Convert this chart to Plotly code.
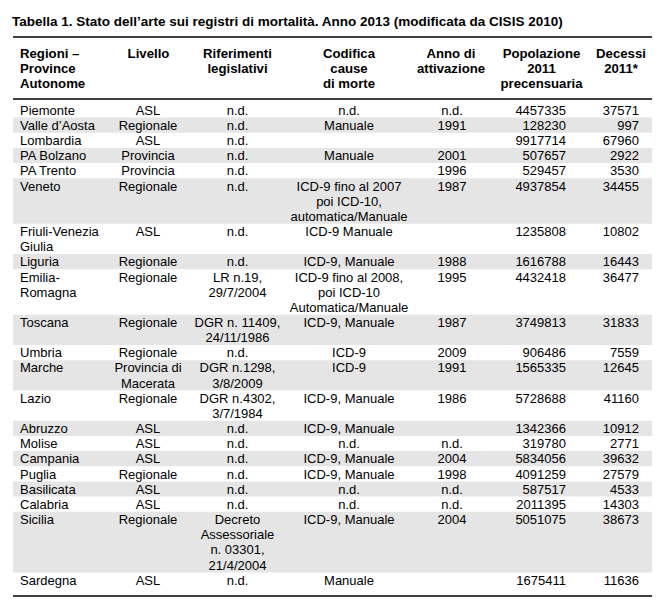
import plotly.graph_objects as go

# ---------------- data ----------------
title_text = "Tabella 1. Stato dell’arte sui registri di mortalità. Anno 2013 (modificata da CISIS 2010)"

headers = [
    "Regioni –<br>Province<br>Autonome",
    "Livello",
    "Riferimenti<br>legislativi",
    "Codifica<br>cause<br>di morte",
    "Anno di<br>attivazione",
    "Popolazione<br>2011<br>precensuaria",
    "Decessi<br>2011*",
]

regioni = [
    "Piemonte", "Valle d’Aosta", "Lombardia", "PA Bolzano", "PA Trento", "Veneto",
    "Friuli-Venezia<br>Giulia", "Liguria", "Emilia-<br>Romagna", "Toscana", "Umbria",
    "Marche", "Lazio", "Abruzzo", "Molise", "Campania", "Puglia", "Basilicata",
    "Calabria", "Sicilia", "Sardegna",
]

livello = [
    "ASL", "Regionale", "ASL", "Provincia", "Provincia", "Regionale", "ASL",
    "Regionale", "Regionale", "Regionale", "Regionale", "Provincia di<br>Macerata",
    "Regionale", "ASL", "ASL", "ASL", "Regionale", "ASL", "ASL", "Regionale", "ASL",
]

riferimenti = [
    "n.d.", "n.d.", "n.d.", "n.d.", "n.d.", "n.d.", "n.d.", "n.d.",
    "LR n.19,<br>29/7/2004", "DGR n. 11409,<br>24/11/1986", "n.d.",
    "DGR n.1298,<br>3/8/2009", "DGR n.4302,<br>3/7/1984", "n.d.", "n.d.", "n.d.",
    "n.d.", "n.d.", "n.d.", "Decreto<br>Assessoriale<br>n. 03301,<br>21/4/2004", "n.d.",
]

codifica = [
    "n.d.", "Manuale", "", "Manuale", "",
    "ICD-9 fino al 2007<br>poi ICD-10,<br>automatica/Manuale",
    "ICD-9 Manuale", "ICD-9, Manuale",
    "ICD-9 fino al 2008,<br>poi ICD-10<br>Automatica/Manuale",
    "ICD-9, Manuale", "ICD-9", "ICD-9", "ICD-9, Manuale", "ICD-9, Manuale", "n.d.",
    "ICD-9, Manuale", "ICD-9, Manuale", "n.d.", "n.d.", "ICD-9, Manuale", "Manuale",
]

anno = [
    "n.d.", "1991", "", "2001", "1996", "1987", "", "1988", "1995", "1987", "2009",
    "1991", "1986", "", "n.d.", "2004", "1998", "n.d.", "n.d.", "2004", "",
]

popolazione = [
    4457335, 128230, 9917714, 507657, 529457, 4937854, 1235808, 1616788, 4432418,
    3749813, 906486, 1565335, 5728688, 1342366, 319780, 5834056, 4091259, 587517,
    2011395, 5051075, 1675411,
]

decessi = [
    37571, 997, 67960, 2922, 3530, 34455, 10802, 16443, 36477, 31833, 7559, 12645,
    41160, 10912, 2771, 39632, 27579, 4533, 14303, 38673, 11636,
]

# ---------------- layout constants ----------------
W, H = 670, 605
FONT = "Liberation Sans, Arial, sans-serif"
BODY_SIZE = 13
HEAD_SIZE = 13.2
TITLE_SIZE = 13.5
LINE = 15.16          # body line pitch (px)
FIRST_LINE = 110      # centre of first body line
TEXT_DY = 1.5         # small downward nudge of glyphs inside their line
HEAD_FIRST = 53
HEAD_LINE = 15
X_LEFT, X_RIGHT = 13, 652
BAND_COLOR = "#e5e5e5"

columns = [regioni, livello, riferimenti, codifica, anno,
           [str(v) for v in popolazione], [str(v) for v in decessi]]
col_x = [20, 148, 237.5, 349, 452, 566, 639]
col_pos = ["middle right", "middle center", "middle center", "middle center",
           "middle center", "middle left", "middle left"]
head_x = [20, 148.5, 237.5, 349, 451, 541.5, 621]
head_pos = ["middle right"] + ["middle center"] * 6

n_rows = len(regioni)
n_lines = [max(len(col[i].split("<br>")) for col in columns) for i in range(n_rows)]
starts = []
acc = 0
for n in n_lines:
    starts.append(acc)
    acc += n

fig = go.Figure()

# alternating grey bands
shapes = []
for i in range(n_rows):
    if i % 2 == 1:
        y0 = FIRST_LINE + starts[i] * LINE - LINE / 2
        y1 = FIRST_LINE + (starts[i] + n_lines[i] - 1) * LINE + LINE / 2
        shapes.append(dict(type="rect", xref="x", yref="y", x0=X_LEFT, x1=X_RIGHT,
                           y0=y0, y1=y1, fillcolor=BAND_COLOR, line=dict(width=0),
                           layer="below"))

# rules
for yr, wdt in [(37, 1.6), (99, 1.4), (596, 1.6)]:
    shapes.append(dict(type="line", xref="x", yref="y", x0=X_LEFT, x1=X_RIGHT,
                       y0=yr, y1=yr, line=dict(color="black", width=wdt)))

# header text
for c, htxt in enumerate(headers):
    lines = htxt.split("<br>")
    fig.add_trace(go.Scatter(
        x=[head_x[c]] * len(lines),
        y=[HEAD_FIRST + TEXT_DY + k * HEAD_LINE for k in range(len(lines))],
        text=lines, mode="text", textposition=head_pos[c],
        textfont=dict(family=FONT, size=HEAD_SIZE, color="black", weight="bold"),
        hoverinfo="skip", showlegend=False,
    ))

# body text
for c, col in enumerate(columns):
    xs, ys, ts = [], [], []
    for i, cell in enumerate(col):
        if not cell:
            continue
        for k, line in enumerate(cell.split("<br>")):
            xs.append(col_x[c])
            ys.append(FIRST_LINE + TEXT_DY + (starts[i] + k) * LINE)
            ts.append(line)
    fig.add_trace(go.Scatter(
        x=xs, y=ys, text=ts, mode="text", textposition=col_pos[c],
        textfont=dict(family=FONT, size=BODY_SIZE, color="black"),
        hoverinfo="skip", showlegend=False,
    ))

fig.update_layout(
    width=W, height=H, autosize=False,
    margin=dict(l=0, r=0, t=0, b=0),
    paper_bgcolor="white", plot_bgcolor="white",
    xaxis=dict(range=[0, W], visible=False, fixedrange=True),
    yaxis=dict(range=[H, 0], visible=False, fixedrange=True),
    shapes=shapes,
    title=dict(text="<b>" + title_text + "</b>", x=12 / W, xanchor="left",
               y=1 - 21 / H, yanchor="middle", yref="container",
               font=dict(family=FONT, size=TITLE_SIZE, color="black")),
)

fig.write_html("out.html", config={"displayModeBar": False},
               post_script="document.body.style.margin='0';")
